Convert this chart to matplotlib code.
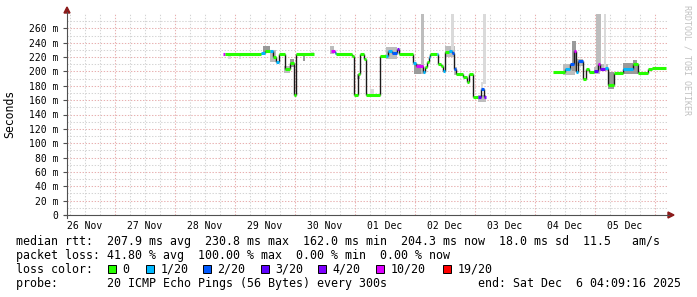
import matplotlib
matplotlib.use('Agg')
import matplotlib.pyplot as plt
from matplotlib.patches import Rectangle, Polygon
from matplotlib.lines import Line2D
import numpy as np

# ---------------- data (time in hours since 2025-11-26 00:00, rtt in ms) -------------
NaN = float('nan')
seg_hours = [67.2, 68.0, 82.4, 84.0, 86.0, 87.2, 88.4, 89.6, 92.0, 94.0, 95.6, 96.4, 103.6,
             110.4, 112.0, 112.4, 118.8, 119.6, 121.2, 122.0, 123.6, 124.4, 130.0, 132.4, 133.2,
             134.8, 136.8, 137.6, 143.2, 144.4, 147.2, 148.0, 148.8, 149.6, 150.0, 152.8, 153.2,
             154.4, 155.2, 156.0, 157.6, 158.8, 159.6, 160.4, 163.2, 164.8, 165.6, 167.2, 169.2,
             170.4, 171.6, 172.4,
             199.2, 204.0, 206.0, 207.6, 208.4, 209.2, 211.2, 212.4, 213.6, 215.6, 217.2, 218.0,
             220.0, 221.2, 223.6, 227.2, 231.2, 233.2, 237.2, 238.8, 244.4]
seg_rtt = [224, 224, 225, 228, 229, 220, 213, 224, 204, 212, 167, 224, NaN,
           229, 226, 224, 222, 167, 197, 224, 217, 167, 221, 222, 228,
           226, 231, 224, 212, 207, 199, 206, 213, 220, 224, 224, 211,
           207, 201, 227, 229, 225, 204, 197, 192, 185, 196, 165, 164,
           175, 164, NaN,
           199, 204, 210, 229, 199, 214, 190, 203, 199, 200, 211, 204,
           205, 181, 198, 204, 210, 198, 203, 205, NaN]
seg_loss = [10, 0, 1, 0, 1, 0, 1, 0, 0, 0, 0, 0, 0,
            10, 1, 0, 0, 0, 0, 0, 0, 0, 0, 1, 1,
            2, 4, 0, 1, 10, 1, 0, 0, 1, 0, 1, 0,
            0, 1, 0, 1, 2, 2, 0, 0, 0, 0, 0, 3,
            2, 4, 0,
            0, 1, 2, 10, 1, 2, 0, 0, 0, 3, 10, 4,
            1, 0, 0, 1, 0, 0, 0, 0, 0]

# smoke (ping spread) bands
smoke_start = [69.2, 73.6, 83.2, 86.0, 91.6, 94.0, 99.2, 102.4,
               110.0, 120.8, 126.0, 132.4, 143.6, 146.4, 156.0, 158.4, 159.6, 169.2, 170.4, 171.2,
               203.2, 206.8, 208.4, 215.6, 216.4, 218.0, 219.6, 221.2, 227.2, 231.2]
smoke_end = [70.4, 74.4, 86.0, 88.4, 94.0, 95.6, 100.0, 103.6,
             111.6, 122.0, 127.6, 136.8, 147.6, 147.6, 160.0, 159.6, 160.8, 172.4, 171.2, 172.4,
             208.0, 208.4, 211.2, 218.0, 218.4, 221.2, 220.4, 223.6, 233.2, 232.8]
smoke_lo = [218, 217, 226, 213, 198, 206, 214, 224,
            224, 190, 167, 218, 197, 197, 220, 230, 195, 157, 176, 183,
            195, 201, 208, 197, 201, 201, 204, 176, 197, 205]
smoke_hi = [223, 223, 236, 230, 208, 218, 222, 227,
            235, 197, 176, 234, 211, 300, 236, 300, 206, 167, 185, 300,
            211, 243, 218, 206, 300, 211, 300, 199, 212, 216]
smoke_shade = ['l', 'l', 'd', 'm', 'm', 'd', 'd', 'l',
               'm', 'm', 'l', 'm', 'd', 'm', 'm', 'l', 'm', 'm', 'l', 'l',
               'm', 'd', 'm', 'm', 'm', 'm', 'l', 'd', 'd', 'd']

y_ticks = [0, 20, 40, 60, 80, 100, 120, 140, 160, 180, 200, 220, 240, 260]
x_labels = ['26 Nov', '27 Nov', '28 Nov', '29 Nov', '30 Nov',
            '01 Dec', '02 Dec', '03 Dec', '04 Dec', '05 Dec']

loss_levels = [0, 1, 2, 3, 4, 10, 19]
loss_labels = ['0', '1/20', '2/20', '3/20', '4/20', '10/20', '19/20']
loss_colors = ['#26ff00', '#00b8ff', '#0059ff', '#5e00ff', '#7e00ff', '#dd00ff', '#ff0000']

stats_rtt = "median rtt:  207.9 ms avg  230.8 ms max  162.0 ms min  204.3 ms now  18.0 ms sd  11.5   am/s"
stats_loss = "packet loss: 41.80 % avg  100.00 % max  0.00 % min  0.00 % now"
probe_txt = "probe:       20 ICMP Echo Pings (56 Bytes) every 300s"
end_txt = "end: Sat Dec  6 04:09:16 2025"

# ---------------- figure ----------------
W, H = 697, 297
fig = plt.figure(figsize=(W / 100, H / 100), dpi=100)
fig.patch.set_facecolor('white')


def fx(x):
    return x / W


def fy(y):
    return 1 - y / H


MONO = 'DejaVu Sans Mono'
ax = fig.add_axes([fx(67), fy(215), 600 / W, 201 / H])
ax.set_xlim(4.8, 244.8)
ax.set_ylim(0, 280)
for s in ax.spines.values():
    s.set_visible(False)

# grid
minor_c = '#d4d4d4'
major_c = '#e8b0b0'
ls = (0, (1.3, 1.6))
for v in range(10, 280, 10):
    ax.axhline(v, color=major_c if v % 20 == 0 else minor_c, lw=0.75, ls=ls, zorder=0)
for h in range(6, 245, 6):
    ax.axvline(h, color=major_c if h % 24 == 0 else minor_c, lw=0.75, ls=ls, zorder=0)

# smoke
shade_map = {'d': '#9a9a9a', 'm': '#bdbdbd', 'l': '#dadada'}
for s0, s1, lo, hi, sh in zip(smoke_start, smoke_end, smoke_lo, smoke_hi, smoke_shade):
    ax.bar(s0, hi - lo, width=s1 - s0, bottom=lo, align='edge',
           color=shade_map[sh], linewidth=0, zorder=2)

# median line
cmap = dict(zip(loss_levels, loss_colors))
n = len(seg_hours)
for i in range(n - 1):
    v = seg_rtt[i]
    if np.isnan(v):
        continue
    t0, t1 = seg_hours[i], seg_hours[i + 1]
    nv = seg_rtt[i + 1]
    if not np.isnan(nv):
        ax.plot([t1, t1], [v, nv], color='#1a1a1a', lw=1.0, zorder=3,
                solid_capstyle='butt')
for i in range(n - 1):
    v = seg_rtt[i]
    if np.isnan(v):
        continue
    t0, t1 = seg_hours[i], seg_hours[i + 1]
    ax.plot([t0, t1], [v, v], color=cmap[seg_loss[i]], lw=2.2, zorder=4,
            solid_capstyle='butt')

# ticks
ax.set_yticks(y_ticks)
ax.set_yticklabels(['0' if v == 0 else f'{v} m' for v in y_ticks], family=MONO, fontsize=7)
ax.tick_params(axis='y', length=3, width=0.8, color='#505050', pad=3, labelcolor='black')
ax.set_xticks([12 + 24 * k for k in range(len(x_labels))])
ax.set_xticklabels(x_labels, family=MONO, fontsize=7)
ax.tick_params(axis='x', length=0, pad=4, labelcolor='black')

# axis lines & arrows
fig.add_artist(Line2D([fx(67), fx(67)], [fy(218), fy(12)], color='#505050', lw=0.8))
fig.add_artist(Line2D([fx(64), fx(669)], [fy(215), fy(215)], color='#505050', lw=0.8))
fig.add_artist(Polygon([(fx(64), fy(13)), (fx(70), fy(13)), (fx(67), fy(7))],
                       closed=True, color='#8b1a1a', transform=fig.transFigure))
fig.add_artist(Polygon([(fx(668), fy(212)), (fx(668), fy(218)), (fx(674), fy(215))],
                       closed=True, color='#8b1a1a', transform=fig.transFigure))

# labels
fig.text(fx(10), fy(114), 'Seconds', rotation=90, ha='center', va='center',
         fontsize=8.3, family=MONO)
fig.text(fx(687), fy(60), 'RRDTOOL / TOBI OETIKER', rotation=270, ha='center', va='center',
         fontsize=6, family=MONO, color='#c0c0c0')

fs = 8.4
fig.text(fx(16), fy(245.3), stats_rtt, family=MONO, fontsize=fs, va='baseline')
fig.text(fx(16), fy(259), stats_loss, family=MONO, fontsize=fs, va='baseline')
fig.text(fx(16), fy(273), 'loss color:', family=MONO, fontsize=fs, va='baseline')
sq_x = [108, 146, 203, 261, 318, 376, 443]
for x, c, lab in zip(sq_x, loss_colors, loss_labels):
    fig.add_artist(Rectangle((fx(x), fy(273)), 8 / W, 8 / H, facecolor=c,
                             edgecolor='black', lw=0.7, transform=fig.transFigure))
    fig.text(fx(x + 14.5), fy(273), lab, family=MONO, fontsize=fs, va='baseline')
fig.text(fx(16), fy(286.7), probe_txt, family=MONO, fontsize=fs, va='baseline')
fig.text(fx(681), fy(286.7), end_txt, family=MONO, fontsize=fs, va='baseline', ha='right')

fig.savefig('out.png', dpi=100, facecolor='white')
